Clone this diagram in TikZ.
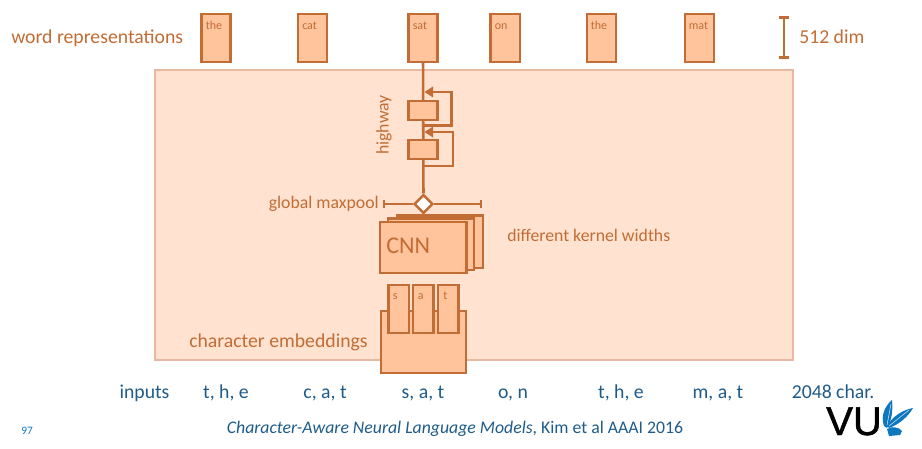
\documentclass[tikz,border=0pt]{standalone}
\usepackage{fontspec}
\setmainfont{Carlito}
\usetikzlibrary{arrows.meta,shapes.geometric}
\definecolor{org}{HTML}{C26D35}
\definecolor{orgfill}{HTML}{FFC49C}
\definecolor{panel}{HTML}{FFE2D0}
\definecolor{panelline}{HTML}{E8B9A0}
\definecolor{navy}{HTML}{1F5C8A}
\definecolor{vublue}{HTML}{0F77BE}
\newfontfamily\vufont[FakeBold=1.2]{Liberation Sans}
\tikzset{
  px/.style={x=0.75pt,y=-0.75pt},
  fbox/.style={draw=org,fill=orgfill,line width=1.7pt,inner sep=0pt,minimum width=0pt},
  wordlab/.style={text=org,font=\fontsize{9}{10}\selectfont,inner sep=0pt,anchor=base west},
  lab/.style={text=org,font=\fontsize{14.8}{17}\selectfont,inner sep=0pt},
  smalllab/.style={text=org,font=\fontsize{13.3}{15}\selectfont,inner sep=0pt},
  inp/.style={text=navy,font=\fontsize{14.8}{17}\selectfont,inner sep=0pt,anchor=base},
  conn/.style={draw=org,line width=1.9pt},
  thin conn/.style={draw=org,line width=1.5pt},
  feather/.style={draw=white,line width=0.3pt},
}
\newcommand{\bx}[5]{\path[fbox] (#2,#3) rectangle (#4,#5) node[pos=.5,inner sep=0pt] (#1) {};}
\begin{document}
\begin{tikzpicture}[px]
\useasboundingbox (0,0) rectangle (922,449);
\path[fill=white] (0,0) rectangle (922,449);
\path[fill=panel,draw=panelline,line width=1.8pt] (155,70) rectangle (793,360);
% word boxes
\bx{w1}{201.5}{14}{230.5}{62}
\bx{w2}{298}{14}{327}{62}
\bx{w3}{408.5}{14}{437.5}{62}
\bx{w4}{490.5}{14}{520}{62}
\bx{w5}{587}{14}{616}{62}
\bx{w6}{685}{14}{714}{62}
\node[wordlab] (t1) at (205.5,29.5) {the};
\node[wordlab] (t2) at (302,29.5) {cat};
\node[wordlab] (t3) at (412.5,29.5) {sat};
\node[wordlab] (t4) at (494.5,29.5) {on};
\node[wordlab] (t5) at (590.5,29.5) {the};
\node[wordlab] (t6) at (688.5,29.5) {mat};
\node[lab,anchor=base west] (wr) at (11,43.5) {word representations};
% dim bar
\coordinate (d1) at (784,16);
\coordinate (d2) at (784,59);
\draw[org,line width=2.2pt,{Bar[width=8pt]}-{Bar[width=8pt]}] (d1) -- (d2);
\node[lab,anchor=base west] (dim) at (799,43.5) {512 dim};
% highway
\coordinate (w3b) at (423,62);
\node[diamond,draw=org,fill=white,line width=1.8pt,minimum width=14pt,minimum height=14pt,inner sep=0pt] (dm) at (423.5,204) {};
\draw[conn] (w3b) -- (dm.north);
\bx{h1}{408.5}{101}{437.5}{120}
\bx{h2}{408.5}{140}{437.5}{159}
\coordinate (a1) at (423.5,92);
\coordinate (b1) at (423.5,125.5);
\coordinate (a2) at (423.5,132);
\coordinate (b2) at (423.5,166);
\draw[conn] (b1) -- (451.5,125.5) -- (451.5,92) -- (432,92);
\draw[conn] (b2) -- (453,166) -- (453,132) -- (432,132);
\path[fill=org] (a1) ++(1,0) -- (433,86.5) -- (433,97.5) -- cycle;
\path[fill=org] (a2) ++(1,0) -- (433,126.5) -- (433,137.5) -- cycle;
\node[smalllab,rotate=90] (hw) at (384,125) {highway};
% maxpool
\coordinate (l1) at (382.5,204);
\coordinate (l2) at (482,204);
\draw[thin conn,{Bar[width=6pt]}-] (l1) -- (dm.west);
\draw[thin conn,-{Bar[width=6pt]}] (dm.east) -- (l2);
\node[smalllab,anchor=base east] (gm) at (379,209) {global maxpool};
% CNN
\bx{c3}{397}{215.5}{483}{268}
\bx{c2}{388}{218.5}{474}{270}
\bx{c1}{380}{222}{466.5}{273}
\node[text=org,font=\fontsize{18}{20}\selectfont,inner sep=0pt,anchor=base west] (cnn) at (386,254) {CNN};
\node[smalllab,anchor=base west] (dk) at (507,241.5) {different kernel widths};
% chars
\bx{e0}{381}{311}{466}{373}
\bx{s1}{388.5}{285}{409}{333}
\bx{s2}{413}{285}{433.5}{333}
\bx{s3}{438}{285}{458.5}{333}
\node[wordlab] (es) at (392.5,300) {s};
\node[wordlab] (ea) at (417.5,300) {a};
\node[wordlab] (et) at (443,300) {t};
\node[lab,anchor=base west] (ce) at (189,348) {character embeddings};
% inputs
\node[inp] (i0) at (144.5,398) {inputs};
\node[inp] (i1) at (226,398) {t, h, e};
\node[inp] (i2) at (325,398) {c, a, t};
\node[inp] (i3) at (423,398) {s, a, t};
\node[inp] (i4) at (513,398) {o, n};
\node[inp] (i5) at (621,398) {t, h, e};
\node[inp] (i6) at (718,398) {m, a, t};
\node[inp] (i7) at (833,398) {2048 char.};
\node[text=vublue,font=\fontsize{8.5}{10}\selectfont,inner sep=0pt,anchor=base west] (pg) at (21,434) {97};
\node[text=navy,font=\fontsize{13.3}{15}\selectfont,inner sep=0pt,anchor=base] (cite) at (455,433) {\textit{Character-Aware Neural Language Models}, Kim et al AAAI 2016};
% logo
\node[text=black,font=\fontsize{30}{32}\selectfont\vufont,inner sep=0pt,anchor=base west] (vu) at (826,435) {VU};
\path[fill=vublue] (884,426) .. controls (880,415) and (886,405) .. (892,400) .. controls (893,410) and (892,420) .. (887,428) -- cycle;
\path[fill=vublue] (887,426) .. controls (892,417) and (902,410) .. (913,408) .. controls (908,417) and (898,425) .. (889,428) -- cycle;
\path[fill=vublue] (887,429) .. controls (892,426) and (899,427) .. (902,431) -- (900,435) -- (889,436) -- cycle;
\draw[feather] (887,425) -- (891,404);
\draw[feather] (889,426) -- (909,410);
\end{tikzpicture}
\end{document}
